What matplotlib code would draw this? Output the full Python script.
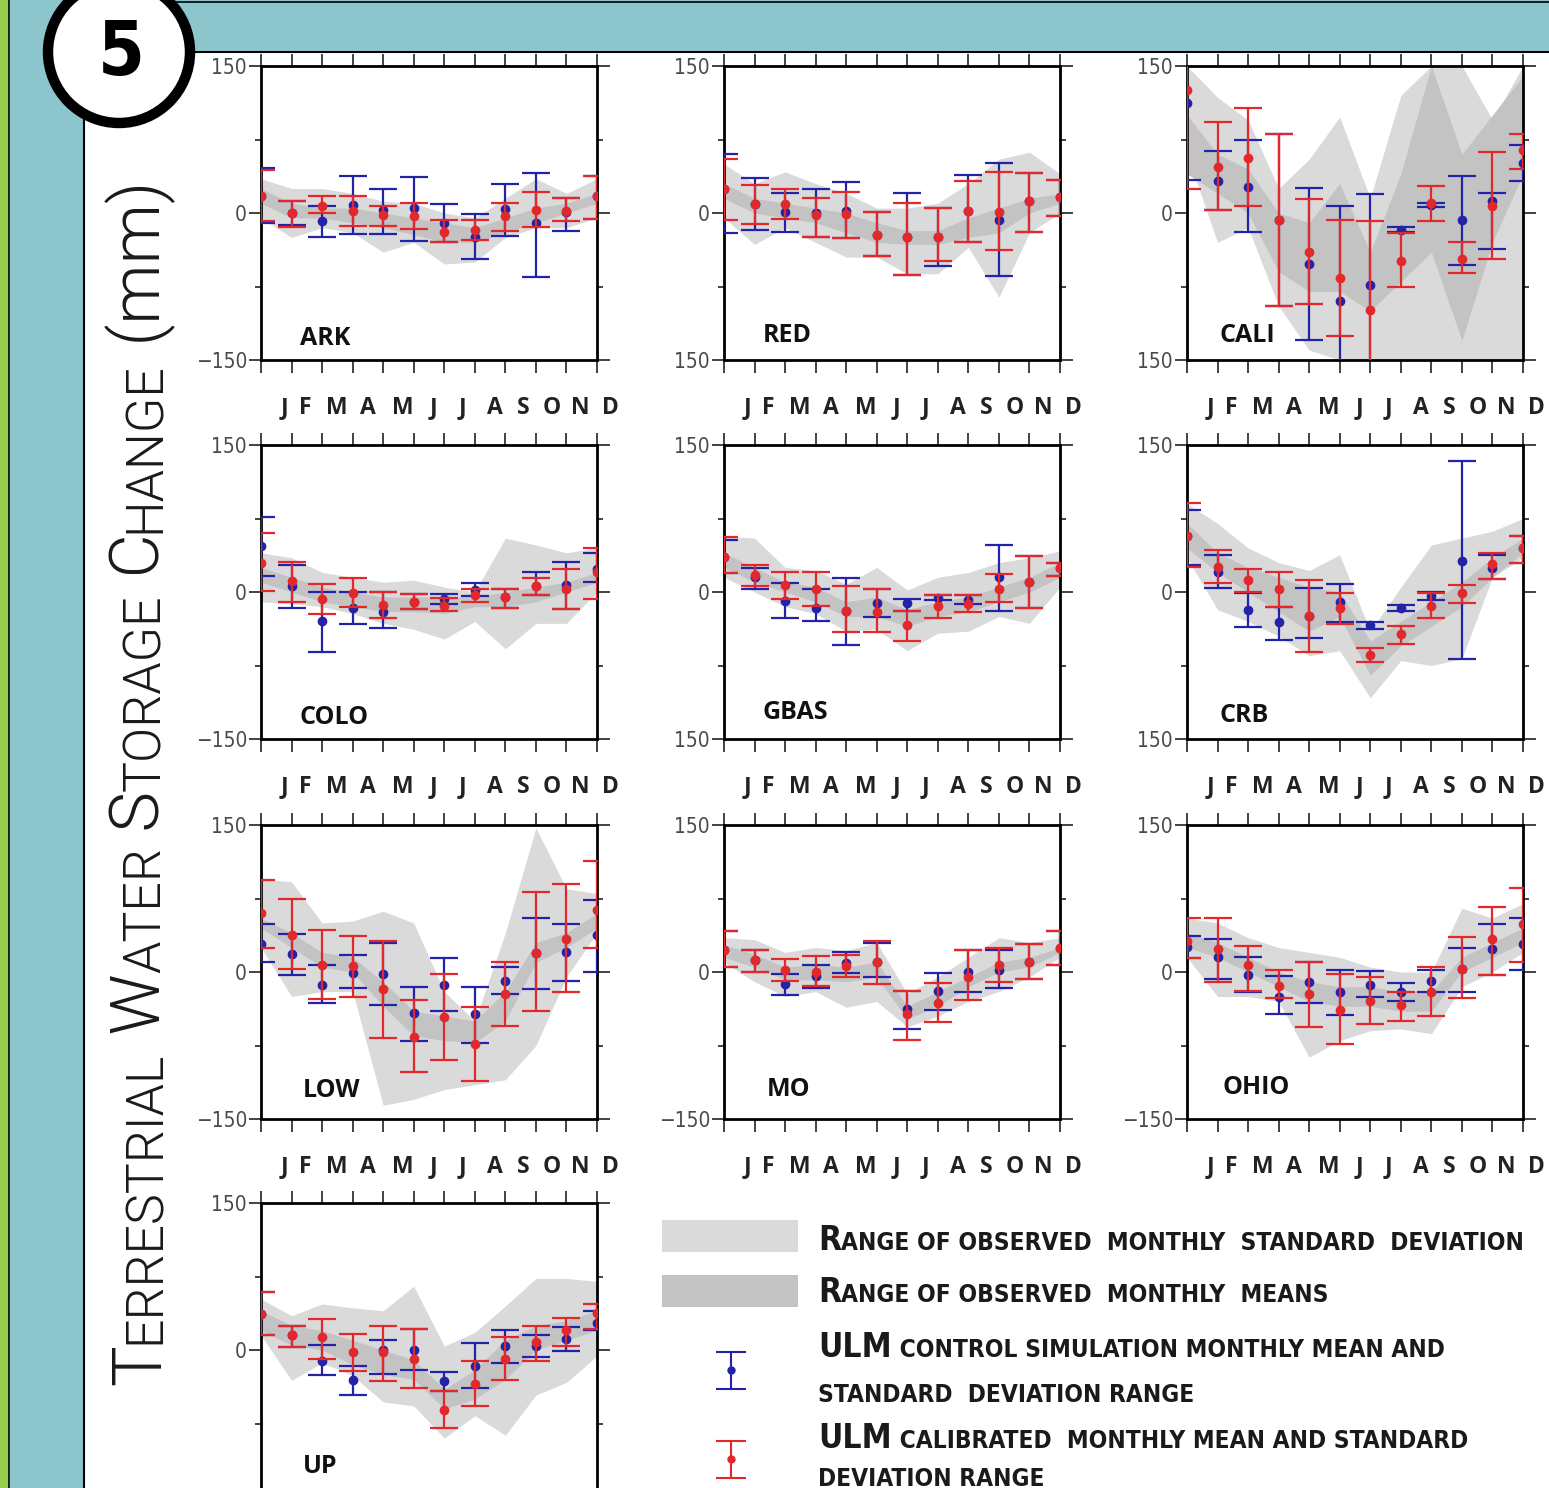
import matplotlib
matplotlib.use("Agg")
import matplotlib.pyplot as plt
from matplotlib import font_manager
from matplotlib.patches import Rectangle, Circle
from matplotlib.ticker import FixedLocator

# ---- data (mm) ----
months = ["J", "F", "M", "A", "M", "J", "J", "A", "S", "O", "N", "D"]

ark_std_lo = [-5, -25, -15, -20, -40, -30, -52, -50, -25, -15, -15, -5]
ark_std_hi = [35, 25, 25, 20, 12, 10, 0, -5, 15, 35, 20, 35]
ark_mean_lo = [10, -5, -5, -10, -15, -22, -30, -30, -20, -10, 0, 10]
ark_mean_hi = [25, 10, 5, 5, 0, -5, -10, -15, -5, 5, 10, 20]
ark_ctl = [17, 0, -8, 8, 3, 5, -10, -24, 4, -10, 1, 17]
ark_ctl_lo = [-10, -12, -24, -21, -21, -29, -30, -47, -23, -65, -18, -6]
ark_ctl_hi = [46, 12, 7, 38, 24, 37, 9, -1, 30, 41, 15, 38]
ark_cal = [17, 0, 7, 2, -2, -3, -19, -17, -3, 3, 2, 17]
ark_cal_lo = [-8, -14, 0, -13, -13, -16, -30, -28, -18, -14, -8, -6]
ark_cal_hi = [44, 12, 17, 17, 7, 10, -7, -7, 10, 21, 15, 38]

red_std_lo = [-5, -32, -15, -30, -45, -45, -62, -62, -35, -86, -20, 0]
red_std_hi = [50, 30, 42, 30, 20, 5, 5, 10, 30, 55, 62, 40]
red_mean_lo = [15, 0, -5, -10, -20, -30, -32, -32, -25, -20, 0, 10]
red_mean_hi = [30, 15, 10, 5, 0, -10, -18, -18, -5, 5, 15, 20]
red_ctl = [24, 9, 1, 0, 2, -22, -24, -24, 2, -7, 12, 16]
red_ctl_lo = [-20, -17, -19, -24, -26, -44, -63, -54, -30, -64, -19, -3]
red_ctl_hi = [60, 36, 20, 24, 32, 1, 20, 5, 39, 51, 41, 34]
red_cal = [24, 9, 9, -2, -1, -22, -24, -24, 2, 1, 12, 16]
red_cal_lo = [-7, -11, -6, -24, -26, -44, -63, -49, -30, -38, -19, -3]
red_cal_hi = [55, 29, 25, 15, 21, 1, 10, 5, 33, 42, 41, 34]

cali_std_lo = [60, -30, -15, -95, -140, -150, -150, -150, -150, -150, -150, -150]
cali_std_hi = [150, 118, 95, 25, 55, 98, 15, 120, 150, 150, 95, 150]
cali_mean_lo = [40, 20, 0, -60, -80, -80, -100, -70, -40, -130, -30, 40]
cali_mean_hi = [100, 60, 45, 0, -10, 30, -40, 40, 150, 60, 100, 140]
cali_ctl = [112, 33, 27, -7, -52, -90, -73, -17, 8, -7, 12, 51]
cali_ctl_lo = [34, 3, -19, -95, -130, -175, -175, -19, 6, -53, -37, 33]
cali_ctl_hi = [170, 63, 74, 81, 26, 7, 19, -14, 10, 38, 20, 69]
cali_cal = [126, 47, 56, -7, -40, -66, -99, -49, 10, -47, 7, 64]
cali_cal_lo = [24, 3, 7, -95, -93, -125, -175, -76, -8, -61, -47, 45]
cali_cal_hi = [170, 93, 107, 81, 14, -7, -8, -20, 28, -30, 62, 81]

colo_std_lo = [-10, -12, -15, -22, -32, -38, -48, -30, -58, -32, -32, 0]
colo_std_hi = [40, 35, 20, 15, 10, 12, 5, 0, 55, 48, 40, 45]
colo_mean_lo = [10, 0, -10, -15, -20, -20, -22, -15, -15, -10, 0, 10]
colo_mean_hi = [25, 15, 5, 0, -5, -5, -5, -5, 0, 5, 10, 20]
colo_ctl = [47, 6, -30, -16, -20, -10, -7, 2, -5, 6, 7, 23]
colo_ctl_lo = [16, -16, -61, -33, -37, -17, -12, -4, -16, -3, -17, 10]
colo_ctl_hi = [77, 28, 0, 0, 0, -2, -2, 9, 3, 20, 31, 40]
colo_cal = [30, 11, -7, -1, -13, -10, -14, -3, -5, 6, 3, 20]
colo_cal_lo = [1, -10, -22, -15, -27, -17, -19, -10, -16, -3, -17, -7]
colo_cal_hi = [60, 31, 8, 14, 0, -2, -6, 3, 3, 14, 23, 45]

gbas_std_lo = [15, 0, -15, -22, -40, -38, -60, -42, -40, -25, -32, 5]
gbas_std_hi = [57, 55, 25, 22, 8, 25, 2, 15, 20, 30, 35, 42]
gbas_mean_lo = [25, 10, 0, -10, -25, -25, -35, -25, -20, -10, 0, 15]
gbas_mean_hi = [40, 25, 10, 5, -10, -5, -18, -10, -5, 5, 15, 30]
gbas_ctl = [36, 15, -9, -16, -19, -11, -11, -6, -8, 15, 10, 25]
gbas_ctl_lo = [19, 3, -27, -30, -54, -26, -19, -8, -12, -19, -16, 16]
gbas_ctl_hi = [53, 24, 9, 3, 14, 3, -7, -3, -3, 48, 37, 30]
gbas_cal = [36, 17, 7, 3, -19, -20, -34, -14, -12, 3, 10, 25]
gbas_cal_lo = [19, 6, -7, -14, -41, -41, -50, -27, -20, -10, -16, 16]
gbas_cal_hi = [56, 28, 20, 20, 6, 3, -19, -3, -3, 18, 37, 30]

crb_std_lo = [35, -18, -30, -45, -65, -60, -108, -70, -75, -68, 15, 35]
crb_std_hi = [90, 70, 45, 30, 22, 38, -40, 5, 48, 55, 62, 75]
crb_mean_lo = [45, 20, 0, -20, -40, -25, -85, -55, -35, -15, 15, 40]
crb_mean_hi = [70, 40, 25, 15, 5, 0, -50, -30, -10, 10, 35, 55]
crb_ctl = [57, 20, -18, -31, -24, -10, -34, -16, -4, 32, 25, 45]
crb_ctl_lo = [28, 4, -36, -49, -47, -31, -38, -19, -8, -68, 13, 30]
crb_ctl_hi = [84, 38, -1, -15, 4, 8, -31, -13, 0, 134, 38, 57]
crb_cal = [57, 26, 12, 3, -24, -16, -64, -43, -14, -1, 29, 45]
crb_cal_lo = [26, 9, 0, -15, -61, -33, -71, -53, -27, -11, 13, 30]
crb_cal_hi = [91, 43, 23, 20, 12, -1, -57, -35, -1, 7, 40, 57]

low_std_lo = [25, -25, -20, -20, -136, -130, -120, -115, -110, -75, -5, 40]
low_std_hi = [95, 92, 50, 52, 62, 50, -20, -50, 40, 147, 85, 80]
low_mean_lo = [45, 25, 5, 0, -35, -65, -70, -72, -50, 10, 25, 45]
low_mean_hi = [55, 40, 20, 15, -10, -40, -45, -50, -20, 30, 40, 60]
low_ctl = [29, 18, -13, -1, -2, -42, -13, -43, -9, 19, 20, 38]
low_ctl_lo = [10, -3, -32, -16, -34, -70, -40, -72, -22, -17, -9, 0]
low_ctl_hi = [49, 39, 7, 17, 30, -15, 14, -15, 5, 55, 49, 73]
low_cal = [60, 38, 7, 6, -17, -66, -46, -73, -22, 19, 34, 63]
low_cal_lo = [25, 3, -28, -25, -67, -102, -90, -111, -55, -40, -20, 25]
low_cal_hi = [94, 75, 43, 37, 32, -29, -2, -36, 10, 82, 90, 113]

mo_std_lo = [10, -10, -25, -20, -36, -30, -56, -45, -30, -20, -5, 15]
mo_std_hi = [35, 33, 20, 25, 22, 30, -22, -5, 15, 35, 30, 35]
mo_mean_lo = [15, 5, -8, -8, -10, -5, -48, -35, -15, 0, 5, 20]
mo_mean_hi = [28, 18, 5, 8, 5, 10, -35, -20, -5, 10, 15, 25]
mo_ctl = [22, 12, -12, -4, 9, 10, -38, -19, 0, 2, 10, 24]
mo_ctl_lo = [5, 0, -23, -16, -1, -5, -58, -39, -20, -16, -7, 7]
mo_ctl_hi = [42, 22, -2, 7, 20, 30, -19, -1, 22, 22, 29, 42]
mo_cal = [22, 12, 2, 0, 6, 10, -43, -32, -5, 7, 10, 24]
mo_cal_lo = [5, 0, -9, -14, -5, -12, -69, -51, -29, -10, -7, 7]
mo_cal_hi = [42, 22, 13, 16, 17, 32, -19, -11, 22, 25, 29, 42]

ohio_std_lo = [15, -25, -25, -30, -87, -70, -60, -58, -63, -15, 0, 20]
ohio_std_hi = [55, 50, 35, 25, 20, 15, 5, 0, 0, 65, 55, 70]
ohio_mean_lo = [25, 15, 0, -15, -30, -35, -35, -40, -40, 0, 15, 30]
ohio_mean_hi = [40, 30, 15, 0, -10, -15, -15, -20, -20, 15, 30, 45]
ohio_ctl = [26, 15, -3, -25, -10, -20, -13, -20, -9, 3, 23, 29]
ohio_ctl_lo = [14, -7, -20, -43, -32, -44, -26, -30, -20, -20, -3, 2]
ohio_ctl_hi = [37, 34, 15, -4, 10, 2, 1, -11, 2, 24, 49, 55]
ohio_cal = [32, 23, 7, -14, -22, -39, -30, -34, -20, 3, 34, 49]
ohio_cal_lo = [14, -10, -19, -27, -56, -73, -53, -50, -45, -27, -3, 10]
ohio_cal_hi = [55, 55, 27, 2, 10, -2, -5, -20, 5, 36, 66, 86]

up_std_lo = [15, -31, -13, -26, -53, -57, -90, -67, -87, -46, -33, -6]
up_std_hi = [52, 35, 47, 43, 40, 65, 4, 18, 45, 73, 73, 70]
up_mean_lo = [20, 5, 0, -15, -25, -30, -60, -50, -30, 0, 10, 20]
up_mean_hi = [40, 25, 20, 10, 0, -10, -40, -20, 10, 25, 30, 40]
up_ctl = [37, 15, -11, -31, 0, 0, -32, -16, 4, 4, 11, 28]
up_ctl_lo = [15, 3, -25, -46, -24, -20, -42, -39, -13, -7, -1, 20]
up_ctl_hi = [59, 25, 5, -16, 10, 21, -22, 7, 20, 15, 23, 40]
up_cal = [37, 15, 13, -2, -2, -9, -61, -35, -9, 8, 20, 38]
up_cal_lo = [15, 3, -9, -21, -32, -39, -80, -57, -31, -11, 4, 21]
up_cal_hi = [59, 25, 32, 16, 25, 21, -42, -11, 13, 25, 33, 47]

basins = [
    ("ARK", ark_std_lo, ark_std_hi, ark_mean_lo, ark_mean_hi, ark_ctl, ark_ctl_lo, ark_ctl_hi, ark_cal, ark_cal_lo, ark_cal_hi),
    ("RED", red_std_lo, red_std_hi, red_mean_lo, red_mean_hi, red_ctl, red_ctl_lo, red_ctl_hi, red_cal, red_cal_lo, red_cal_hi),
    ("CALI", cali_std_lo, cali_std_hi, cali_mean_lo, cali_mean_hi, cali_ctl, cali_ctl_lo, cali_ctl_hi, cali_cal, cali_cal_lo, cali_cal_hi),
    ("COLO", colo_std_lo, colo_std_hi, colo_mean_lo, colo_mean_hi, colo_ctl, colo_ctl_lo, colo_ctl_hi, colo_cal, colo_cal_lo, colo_cal_hi),
    ("GBAS", gbas_std_lo, gbas_std_hi, gbas_mean_lo, gbas_mean_hi, gbas_ctl, gbas_ctl_lo, gbas_ctl_hi, gbas_cal, gbas_cal_lo, gbas_cal_hi),
    ("CRB", crb_std_lo, crb_std_hi, crb_mean_lo, crb_mean_hi, crb_ctl, crb_ctl_lo, crb_ctl_hi, crb_cal, crb_cal_lo, crb_cal_hi),
    ("LOW", low_std_lo, low_std_hi, low_mean_lo, low_mean_hi, low_ctl, low_ctl_lo, low_ctl_hi, low_cal, low_cal_lo, low_cal_hi),
    ("MO", mo_std_lo, mo_std_hi, mo_mean_lo, mo_mean_hi, mo_ctl, mo_ctl_lo, mo_ctl_hi, mo_cal, mo_cal_lo, mo_cal_hi),
    ("OHIO", ohio_std_lo, ohio_std_hi, ohio_mean_lo, ohio_mean_hi, ohio_ctl, ohio_ctl_lo, ohio_ctl_hi, ohio_cal, ohio_cal_lo, ohio_cal_hi),
    ("UP", up_std_lo, up_std_hi, up_mean_lo, up_mean_hi, up_ctl, up_ctl_lo, up_ctl_hi, up_cal, up_cal_lo, up_cal_hi),
]
bottom_labels = ["\u2212150", "150", "150", "\u2212150", "150", "150", "\u2212150", "\u2212150", "\u2212150", "\u2212150"]

# ---- layout (pixels) ----
W, H = 1549, 1488
col_left = [261, 724, 1187]
row_top = [66, 445, 825, 1203]
pw, ph = 336, 294
label_pos = [(0.116, 0.051), (0.116, 0.061), (0.098, 0.061), (0.116, 0.05), (0.116, 0.068),
             (0.098, 0.058), (0.125, 0.075), (0.128, 0.078), (0.107, 0.085), (0.125, 0.082)]
month_x = [0.071, 0.131, 0.226, 0.318, 0.423, 0.512, 0.601, 0.696, 0.780, 0.866, 0.949, 1.039]

blue = "#2323A8"
red = "#E2282A"
light_band = "#DADADA"
dark_band = "#C3C3C3"

fonts = font_manager.fontManager.ttflist
avail = {f.name for f in fonts}


def pick(*names):
    for n in names:
        if n in avail:
            return n
    return "DejaVu Sans"


label_font = pick("Open Sans", "Lato", "DejaVu Sans")

# light face for the big y label (thin strokes like the original)
thin = dict(family=pick("Lato", "Open Sans"), fontweight="normal")
for n in ["Roboto", "Open Sans", "Lato"]:
    if any(f.name == n and f.weight == 300 for f in fonts):
        thin = dict(family=n, fontweight=300)
        break

# condensed face for the legend, the "5" and tick numbers
if "Liberation Sans Narrow" in avail:
    cond = dict(family="Liberation Sans Narrow")
elif any(f.name == "DejaVu Sans" and f.stretch == "condensed" for f in fonts):
    cond = dict(family="DejaVu Sans", fontstretch="condensed")
else:
    cond = dict(family=pick("Roboto", "Liberation Sans"))

fig = plt.figure(figsize=(W / 100, H / 100), dpi=100)
fig.patch.set_facecolor("white")

# background frame
bg = fig.add_axes([0, 0, 1, 1], zorder=-10)
bg.set_xlim(0, W)
bg.set_ylim(H, 0)
bg.axis("off")
teal = "#8CC6CC"
bg.add_patch(Rectangle((0, 0), 9, H, color="#94CF4E", lw=0))
bg.add_patch(Rectangle((10, 0), 74, H, color=teal, lw=0))
bg.add_patch(Rectangle((84, 0), W - 84, 52, color=teal, lw=0))
bg.plot([9.5, 9.5], [0, H], color="black", lw=1.2)
bg.plot([84, 84], [52, H], color="black", lw=1.5)
bg.plot([84, W], [52, 52], color="black", lw=1.5)
bg.plot([150, W], [2, 2], color="black", lw=1.2)

x = list(range(12))
for i, b in enumerate(basins):
    name, s_lo, s_hi, m_lo, m_hi, c, c_lo, c_hi, k, k_lo, k_hi = b
    r, col = divmod(i, 3)
    left, top = col_left[col], row_top[r]
    ax = fig.add_axes([left / W, 1 - (top + ph) / H, pw / W, ph / H])
    ax.fill_between(x, s_lo, s_hi, color=light_band, lw=0, zorder=1)
    ax.fill_between(x, m_lo, m_hi, color=dark_band, lw=0, zorder=1.5)
    for mean, lo, hi, colr, z in [(c, c_lo, c_hi, blue, 3), (k, k_lo, k_hi, red, 4)]:
        err = [[max(0, m - l) for m, l in zip(mean, lo)], [max(0, h - m) for m, h in zip(mean, hi)]]
        ax.errorbar(x, mean, yerr=err, fmt="o", color=colr, ms=6, elinewidth=1.6,
                    capsize=10, capthick=1.6, zorder=z)
    ax.set_xlim(0, 11)
    ax.set_ylim(-150, 150)
    ax.set_xticks(x)
    ax.set_xticklabels([])
    ax.tick_params(axis="x", which="major", direction="out", top=True, bottom=True,
                   length=9, width=1.2, color="#222222")
    ax.set_yticks([-150, 0, 150])
    ax.set_yticklabels([bottom_labels[i], "0", "150"])
    ax.yaxis.set_minor_locator(FixedLocator([-75, 75]))
    ax.tick_params(axis="y", which="major", direction="out", left=True, right=True,
                   length=9, width=1.2, color="#222222", labelsize=15,
                   labelcolor="#4a4a4a", pad=1)
    ax.tick_params(axis="y", which="minor", direction="out", left=True, right=True,
                   length=4, width=1.2, color="#222222")
    for t in ax.get_yticklabels():
        t.set_family(cond["family"])
        if "fontstretch" in cond:
            t.set_fontstretch(cond["fontstretch"])
    for sp in ax.spines.values():
        sp.set_linewidth(2)
    lx, ly = label_pos[i]
    ax.text(lx, ly, name, transform=ax.transAxes, fontsize=18, fontweight="bold",
            family=label_font, color="#111111", ha="left", va="baseline")
    if r < 3:
        for m, mx in zip(months, month_x):
            ax.text(mx, -0.163, m, transform=ax.transAxes, ha="center", va="center",
                    fontsize=16.5, fontweight="bold", family=label_font, color="#222222")

# foreground overlay: circle, y label, legend
fg = fig.add_axes([0, 0, 1, 1], zorder=10)
fg.set_xlim(0, W)
fg.set_ylim(H, 0)
fg.axis("off")
fg.add_patch(Circle((119, 52), 71, facecolor="white", edgecolor="black", lw=7.5, clip_on=False))
fg.text(121, 55, "5", ha="center", va="center", fontsize=54, fontweight="bold",
        color="black", **cond)

renderer = fig.canvas.get_renderer()


def place_v(x0, y0, parts, scale, **kw):
    out = []
    y = y0
    for s, size in parts:
        t = fg.text(x0, y, s, fontsize=size * scale, rotation=90, rotation_mode="anchor",
                    ha="left", va="baseline", **kw)
        out.append(t)
        y -= t.get_window_extent(renderer).height
    return out, y


def place_h(x0, y0, parts, scale, **kw):
    out = []
    xx = x0
    for s, size in parts:
        t = fg.text(xx, y0, s, fontsize=size * scale, ha="left", va="baseline", **kw)
        out.append(t)
        xx += t.get_window_extent(renderer).width
    return out, xx


big, small = 42, 32
ylabel_parts = [("T", big), ("ERRESTRIAL", small), (" W", big), ("ATER", small),
                (" S", big), ("TORAGE", small), (" C", big), ("HANGE", small), (" (mm)", big)]
kw_y = dict(color="#1a1a1a", **thin)
txts, yend = place_v(160, 1385, ylabel_parts, 1.0, **kw_y)
sc = (1385 - 180) / (1385 - yend)
for t in txts:
    t.remove()
place_v(160, 1385, ylabel_parts, sc, **kw_y)

# legend
fg.add_patch(Rectangle((662, 1220), 136, 32, color=light_band, lw=0))
fg.add_patch(Rectangle((662, 1275), 136, 32, color=dark_band, lw=0))
fg.errorbar([731], [1370], yerr=[[18], [19]], fmt="o", color=blue, ms=5, elinewidth=1.5,
            capsize=11, capthick=1.5)
fg.errorbar([731], [1459], yerr=[[18], [19]], fmt="o", color=red, ms=5, elinewidth=1.5,
            capsize=11, capthick=1.5)

lb, ls = 22, 16
legend_lines = [
    (1250, [("R", lb), ("ANGE OF OBSERVED  MONTHLY  STANDARD  DEVIATION", ls)]),
    (1302, [("R", lb), ("ANGE OF OBSERVED  MONTHLY  MEANS", ls)]),
    (1357, [("ULM", lb), (" CONTROL SIMULATION MONTHLY MEAN AND", ls)]),
    (1402, [("STANDARD  DEVIATION RANGE", ls)]),
    (1448, [("ULM", lb), (" CALIBRATED  MONTHLY MEAN AND STANDARD", ls)]),
    (1486, [("DEVIATION RANGE", ls)]),
]
kw_l = dict(color="#1a1a1a", fontweight="bold", **cond)
txts, xend = place_h(818, legend_lines[0][0], legend_lines[0][1], 1.0, **kw_l)
lsc = (1525 - 818) / (xend - 818)
for t in txts:
    t.remove()
for yy, parts in legend_lines:
    place_h(818, yy, parts, lsc, **kw_l)

fig.savefig("out.png", dpi=100, facecolor="white")
